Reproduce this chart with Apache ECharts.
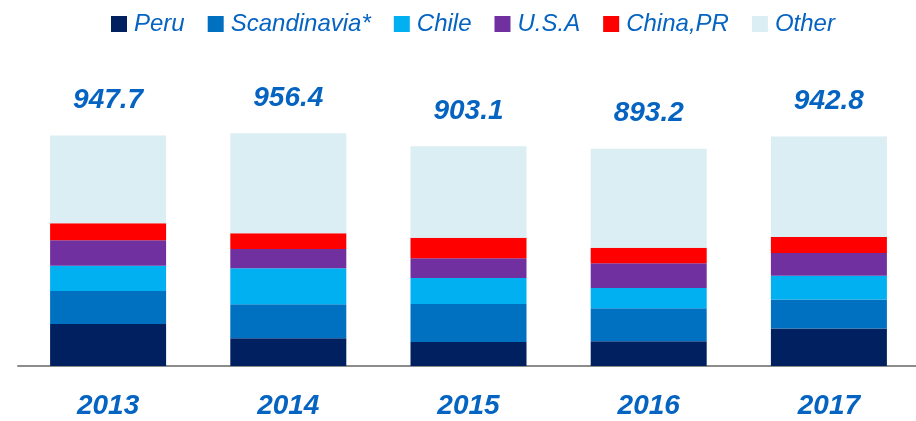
<!DOCTYPE html>
<html>
<head>
<meta charset="utf-8">
<script src="https://cdn.jsdelivr.net/npm/echarts@6/dist/echarts.min.js"></script>
<style>
  html, body { margin: 0; padding: 0; background: #fff; overflow: hidden; }
  /* a few px wider than the window: the axis runs off the right edge */
  #chart { width: 922px; height: 421px; }
</style>
</head>
<body>
<div id="chart"></div>
<script>
// values (stack heights per year)
const years = ['2013', '2014', '2015', '2016', '2017']
const peru = [172.5, 113.8, 98.6, 101.5, 154.5]
const scandinavia = [135.6, 139.7, 156.1, 135.6, 119.1]
const chile = [104.4, 147.9, 106.8, 83.4, 97.4]
const usa = [104.0, 79.7, 80.9, 101.5, 93.3]
const china = [69.8, 64.1, 84.6, 64.1, 65.7]
const other = [361.4, 411.2, 376.1, 407.1, 412.9]
const totals = [947.7, 956.4, 903.1, 893.2, 942.8]

const textBlue = '#0563C1'
const font = '"Liberation Sans", Arial, sans-serif'

const seriesDefs = [
  { name: 'Peru', data: peru, color: '#002060' },
  { name: 'Scandinavia*', data: scandinavia, color: '#0070C0' },
  { name: 'Chile', data: chile, color: '#00B0F0' },
  { name: 'U.S.A', data: usa, color: '#7030A0' },
  { name: 'China,PR', data: china, color: '#FF0000' },
  { name: 'Other', data: other, color: '#DAEEF3' }
]

const chart = echarts.init(document.getElementById('chart'))

const series = seriesDefs.map((s, i) => {
  const item = {
    name: s.name,
    type: 'bar',
    stack: 'total',
    data: s.data,
    barWidth: 116,
    itemStyle: { color: s.color },
    emphasis: { disabled: true }
  }
  // totals above the top segment
  if (i === seriesDefs.length - 1) {
    item.label = {
      show: true,
      position: 'top',
      distance: 21,
      formatter: (p) => totals[p.dataIndex].toFixed(1),
      color: textBlue,
      fontFamily: font,
      fontSize: 28,
      fontWeight: 'bold',
      fontStyle: 'italic'
    }
  }
  return item
})

const option = {
  animation: false,
  backgroundColor: '#fff',
  legend: {
    data: seriesDefs.map(s => s.name),
    left: 106,
    top: 7,
    itemWidth: 16,
    itemHeight: 16,
    itemGap: 23,
    icon: 'rect',
    textStyle: {
      color: textBlue,
      fontFamily: font,
      fontSize: 24,
      fontStyle: 'italic',
      padding: [0, 0, 0, 2]
    }
  },
  grid: {
    left: 18,
    right: 3,
    top: 40,
    bottom: 55
  },
  xAxis: {
    type: 'category',
    data: years,
    axisTick: { show: false },
    axisLine: { lineStyle: { color: '#8C8C8C', width: 2 } },
    axisLabel: {
      margin: 26,
      color: textBlue,
      fontFamily: font,
      fontSize: 28,
      fontWeight: 'bold',
      fontStyle: 'italic'
    }
  },
  yAxis: {
    type: 'value',
    min: 0,
    max: 1340,
    show: false,
    splitLine: { show: false }
  },
  series: series
}

chart.setOption(option)
</script>
</body>
</html>
